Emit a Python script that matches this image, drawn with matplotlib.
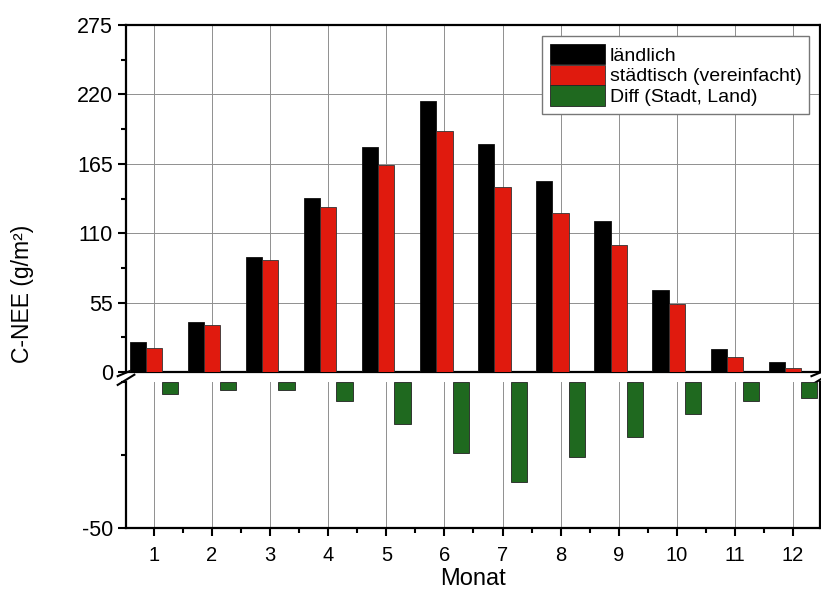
import numpy as np
import matplotlib
matplotlib.use("Agg")
import matplotlib.pyplot as plt
from matplotlib.ticker import MultipleLocator

plt.rcParams['font.family'] = ['Liberation Sans', 'DejaVu Sans']
plt.rcParams['axes.unicode_minus'] = False

months = np.arange(1, 13)
month_labels = [str(m) for m in months]
laendlich = [24, 40, 91, 138, 178, 215, 181, 151, 120, 65, 18, 8]
staedtisch = [19, 37, 89, 131, 164, 191, 147, 126, 101, 54, 12, 3]
diff = [-4, -2.7, -2.7, -6.5, -14.4, -24.3, -34.2, -25.7, -18.8, -11, -6.5, -5.5]

c_black = '#000000'
c_red = '#e01a0e'
c_green = '#1f691f'
w = 0.28

fig = plt.figure(figsize=(8.21, 5.93), dpi=100)
ax1 = fig.add_axes([0.1535, 0.3727, 0.845, 0.5851])
ax2 = fig.add_axes([0.1535, 0.1096, 0.845, 0.2462])

b1 = ax1.bar(months - w, laendlich, w, color=c_black, edgecolor='#111111', lw=0.6,
             label='ländlich', zorder=3)
b2 = ax1.bar(months, staedtisch, w, color=c_red, edgecolor='#333333', lw=0.6,
             label='städtisch (vereinfacht)', zorder=3)
b3 = ax2.bar(months + w, diff, w, color=c_green, edgecolor='#222222', lw=0.6,
             label='Diff (Stadt, Land)', zorder=3)

for ax in (ax1, ax2):
    ax.set_xlim(0.52, 12.46)
    ax.set_xticks(months)
    ax.xaxis.set_minor_locator(MultipleLocator(0.5))
    ax.grid(True, axis='x', color='#8f8f8f', lw=0.7, zorder=0)
    for s in ax.spines.values():
        s.set_linewidth(1.6)
    ax.tick_params(axis='both', which='major', direction='out', length=6, width=1.5,
                   labelsize=15.5)
    ax.tick_params(axis='both', which='minor', direction='out', length=3.5, width=1.5)

ax1.set_ylim(0, 275)
ax1.set_yticks(np.arange(0, 276, 55))
ax1.yaxis.set_minor_locator(MultipleLocator(27.5))
ax1.grid(True, axis='y', color='#8f8f8f', lw=0.7, zorder=0)
ax1.tick_params(axis='x', which='both', bottom=False, labelbottom=False)
ax1.tick_params(axis='y', which='both', right=False)

ax2.set_ylim(-50, 0)
ax2.set_yticks([-50])
ax2.yaxis.set_minor_locator(MultipleLocator(25))
ax2.spines['top'].set_visible(False)
ax2.tick_params(axis='x', which='major', labelsize=14.5, pad=7)
ax2.set_xlabel('Monat', fontsize=17, labelpad=2)

fig.text(0.027, 0.505, 'C-NEE (g/m²)', rotation=90, fontsize=16.5, va='center', ha='center')

# axis break marks
d = 0.012
kw = dict(color='black', lw=1.5, clip_on=False)
for x0 in (0, 1):
    ax1.plot([x0 - d, x0 + d], [-0.012, 0.008], transform=ax1.transAxes, **kw)
    ax2.plot([x0 - d, x0 + d], [0.98, 1.05], transform=ax2.transAxes, **kw)

leg = ax1.legend(handles=[b1, b2, b3], loc='upper right', bbox_to_anchor=(0.993, 0.985),
                 fontsize=14, frameon=True, fancybox=False, edgecolor='#777777',
                 framealpha=1, handlelength=2.8, handleheight=1.25,
                 handletextpad=0.25, labelspacing=0.0, borderpad=0.4, borderaxespad=0.3)
leg.get_frame().set_linewidth(1.0)

plt.savefig("out.png", dpi=100)
